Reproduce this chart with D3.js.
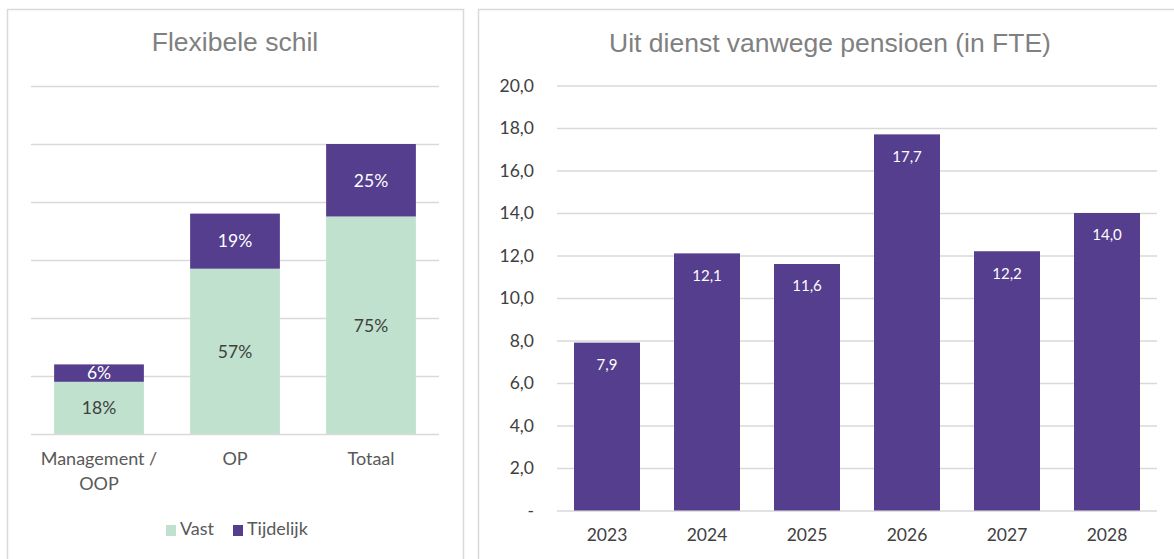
<!DOCTYPE html>
<html>
<head>
<meta charset="utf-8">
<script src="https://cdn.jsdelivr.net/npm/d3@7/dist/d3.min.js"></script>
<style>
  html, body { margin: 0; padding: 0; background: #ffffff; }
  svg { display: block; font-family: Lato, "Open Sans", sans-serif; }
  .title { font-family: "Liberation Sans", Arial, sans-serif; }
</style>
</head>
<body>
<svg id="chart" width="1174" height="559"></svg>
<script>
// ---- Data: left chart ----
const flexCategories = [["Management /", "OOP"], ["OP"], ["Totaal"]];
const flexVast = [18, 57, 75];
const flexTijdelijk = [6, 19, 25];
const flexTicks = [0, 20, 40, 60, 80, 100, 120];
const flexLegend = ["Vast", "Tijdelijk"];

// ---- Data: right chart ----
const pensionYears = ["2023", "2024", "2025", "2026", "2027", "2028"];
const pensionFTE = [7.9, 12.1, 11.6, 17.7, 12.2, 14.0];
const pensionTicks = [0, 2, 4, 6, 8, 10, 12, 14, 16, 18, 20];

const PURPLE = "#553e8d";
const GREEN = "#bfe1cd";
const GRID = "#d9d9d9";
const TXT = "#595959";

const svg = d3.select("#chart");

// panel borders
svg.append("rect").attr("x", 7.5).attr("y", 9.5).attr("width", 456).attr("height", 560)
  .attr("fill", "none").attr("stroke", "#d9d9d9").attr("stroke-width", 1.5);
svg.append("rect").attr("x", 478.5).attr("y", 9.5).attr("width", 720).attr("height", 560)
  .attr("fill", "none").attr("stroke", "#d9d9d9").attr("stroke-width", 1.5);

// ================= LEFT CHART =================
{
  const g = svg.append("g");
  const x = d3.scaleBand().domain(d3.range(flexCategories.length)).range([31, 439]).paddingInner(0.34).paddingOuter(0.17);
  const y = d3.scaleLinear().domain([0, 120]).range([434, 86]);

  g.append("text").attr("class", "title").attr("x", 235).attr("y", 51).attr("text-anchor", "middle")
    .attr("font-size", 26.5).attr("fill", "#808080").text("Flexibele schil");

  // gridlines
  const ax = d3.axisLeft(y).tickValues(flexTicks).tickSize(-(439 - 31)).tickFormat("");
  const ga = g.append("g").attr("transform", "translate(31,0)").call(ax);
  ga.select(".domain").remove();
  ga.selectAll(".tick line").attr("stroke", GRID).attr("stroke-width", 1.3);

  // bars
  flexCategories.forEach((c, i) => {
    const v = flexVast[i], t = flexTijdelijk[i];
    g.append("rect").attr("x", x(i)).attr("width", x.bandwidth())
      .attr("y", y(v)).attr("height", y(0) - y(v)).attr("fill", GREEN);
    g.append("rect").attr("x", x(i)).attr("width", x.bandwidth())
      .attr("y", y(v + t)).attr("height", y(v) - y(v + t)).attr("fill", PURPLE);
    g.append("text").attr("x", x(i) + x.bandwidth() / 2).attr("y", (y(0) + y(v)) / 2)
      .attr("dy", "0.36em").attr("text-anchor", "middle").attr("font-size", 17.5)
      .attr("fill", "#404040").text(v + "%");
    g.append("text").attr("x", x(i) + x.bandwidth() / 2).attr("y", (y(v) + y(v + t)) / 2)
      .attr("dy", "0.36em").attr("text-anchor", "middle").attr("font-size", 17.5)
      .attr("fill", "#ffffff").text(t + "%");
    c.forEach((line, j) => {
      g.append("text").attr("x", x(i) + x.bandwidth() / 2).attr("y", 465 + j * 25)
        .attr("text-anchor", "middle").attr("font-size", 18).attr("fill", TXT).text(line);
    });
  });

  // legend
  const legX = [166, 233];
  flexLegend.forEach((name, i) => {
    g.append("rect").attr("x", legX[i]).attr("y", 525).attr("width", 10).attr("height", 11)
      .attr("fill", i === 0 ? GREEN : PURPLE);
    g.append("text").attr("x", legX[i] + 14).attr("y", 535).attr("font-size", 18)
      .attr("fill", TXT).text(name);
  });
}

// ================= RIGHT CHART =================
{
  const g = svg.append("g");
  const x = d3.scaleBand().domain(pensionYears).range([557, 1157]).paddingInner(0.34).paddingOuter(0.17);
  const y = d3.scaleLinear().domain([0, 20]).range([510.5, 85.5]);

  g.append("text").attr("class", "title").attr("x", 830).attr("y", 52).attr("text-anchor", "middle")
    .attr("font-size", 26.5).attr("fill", "#808080").text("Uit dienst vanwege pensioen (in FTE)");

  const fmt = d => d === 0 ? "-" : d3.format(".1f")(d).replace(".", ",");

  const ax = d3.axisLeft(y).tickValues(pensionTicks).tickSize(-(1157 - 557)).tickPadding(23).tickFormat(fmt);
  const ga = g.append("g").attr("transform", "translate(557,0)").call(ax);
  ga.attr("font-family", null).attr("font-size", null);
  ga.select(".domain").remove();
  ga.selectAll(".tick line").attr("stroke", GRID).attr("stroke-width", 1.3);
  ga.selectAll(".tick text").attr("font-size", 17.5).attr("fill", "#404040");

  g.selectAll("rect.bar").data(pensionFTE).join("rect").attr("class", "bar")
    .attr("x", (d, i) => x(pensionYears[i])).attr("width", x.bandwidth())
    .attr("y", d => y(d)).attr("height", d => y(0) - y(d)).attr("fill", PURPLE);

  g.selectAll("text.val").data(pensionFTE).join("text").attr("class", "val")
    .attr("x", (d, i) => x(pensionYears[i]) + x.bandwidth() / 2)
    .attr("y", d => y(d) + 22).attr("dy", "0.36em").attr("text-anchor", "middle")
    .attr("font-size", 15).attr("fill", "#ffffff").text(d => fmt(d));

  g.selectAll("text.cat").data(pensionYears).join("text").attr("class", "cat")
    .attr("x", d => x(d) + x.bandwidth() / 2).attr("y", 541)
    .attr("text-anchor", "middle").attr("font-size", 17.5).attr("fill", "#404040").text(d => d);
}
</script>
</body>
</html>
